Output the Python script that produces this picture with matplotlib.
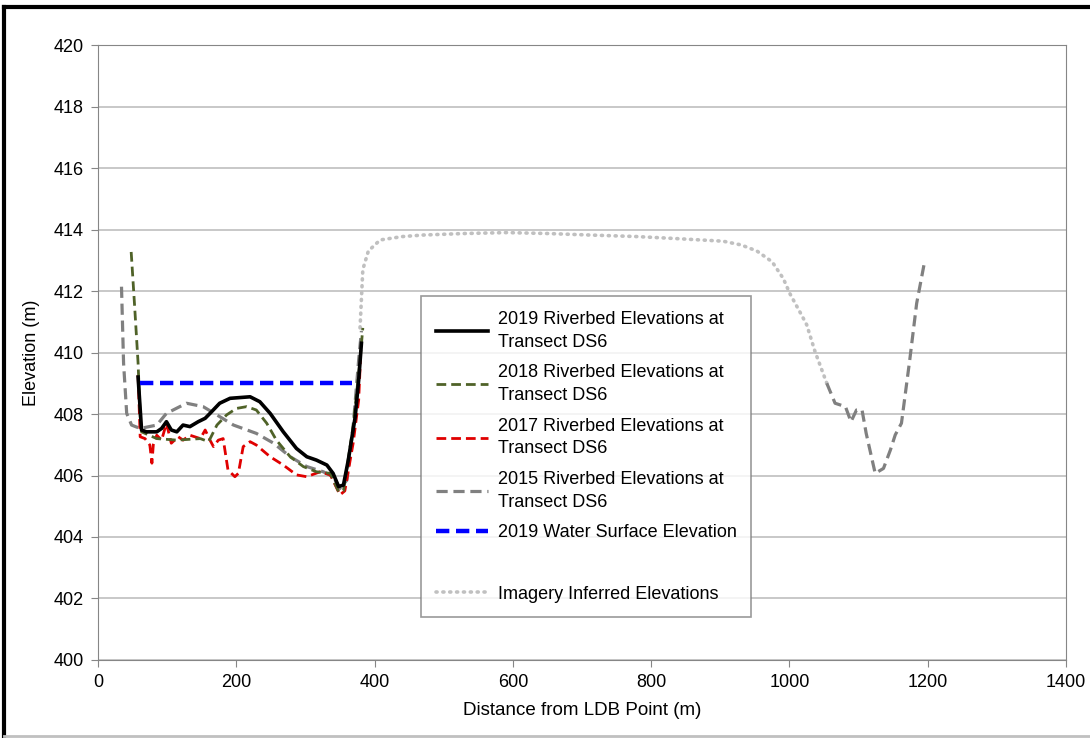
import numpy as np
import matplotlib
matplotlib.use("Agg")
import matplotlib.pyplot as plt
from matplotlib.lines import Line2D

plt.rcParams['font.family'] = ['Liberation Sans', 'DejaVu Sans']

# 2019 riverbed
x2019 = [58, 63, 70, 85, 92, 99, 106, 114, 123, 133, 145, 155, 162, 176, 191, 220, 234, 249,
         268, 287, 302, 316, 331, 340, 348, 355, 362, 372, 377, 381]
y2019 = [409.2, 407.48, 407.42, 407.42, 407.53, 407.75, 407.48, 407.42, 407.64, 407.59, 407.75,
         407.86, 408.02, 408.35, 408.51, 408.56, 408.4, 408.02, 407.42, 406.88, 406.61, 406.5,
         406.34, 406.07, 405.64, 405.69, 406.5, 407.91, 409.1, 410.3]

# 2018 riverbed
x2018 = [48, 53, 58, 61, 63, 85, 114, 148, 160, 172, 186, 200, 215, 229, 244, 258, 278, 297,
         316, 336, 348, 355, 369, 379, 383]
y2018 = [413.27, 411.5, 409.65, 407.92, 407.42, 407.2, 407.15, 407.2, 407.1, 407.64, 407.97,
         408.18, 408.24, 408.13, 407.7, 407.15, 406.61, 406.29, 406.12, 406.07, 405.47, 405.5,
         407.6, 409.76, 410.8]

# 2017 riverbed
x2017 = [58, 61, 68, 75, 78, 80, 85, 92, 99, 106, 116, 123, 133, 148, 155, 162, 167, 174, 181,
         188, 198, 203, 210, 220, 229, 249, 268, 287, 302, 321, 336, 350, 357, 369, 377, 380]
y2017 = [409.27, 407.26, 407.2, 406.99, 406.4, 407.0, 407.31, 407.15, 407.7, 407.05, 407.26,
         407.15, 407.31, 407.2, 407.48, 407.15, 406.94, 407.15, 407.2, 406.18, 405.96, 406.07,
         406.94, 407.1, 406.99, 406.61, 406.34, 406.02, 405.96, 406.12, 406.02, 405.37, 405.5,
         407.05, 408.45, 410.0]

# 2015 riverbed, left bank section and right channel section
x2015_l = [34, 37, 41.5, 48.6, 61, 85, 99, 128, 152, 172, 196, 229, 254, 278, 302, 326, 340,
           350, 360, 369, 377, 381]
y2015_l = [412.14, 409.65, 408.02, 407.64, 407.53, 407.64, 408.02, 408.35, 408.24, 407.97,
           407.64, 407.37, 407.05, 406.61, 406.29, 406.12, 405.96, 405.58, 405.85, 407.59,
           409.76, 410.7]
x2015_r = [1054, 1066, 1081, 1089, 1097, 1105, 1111, 1124, 1136, 1146, 1153, 1162, 1174, 1184, 1195]
y2015_r = [409.0, 408.35, 408.24, 407.75, 408.13, 408.13, 407.37, 406.07, 406.23, 406.83,
           407.32, 407.7, 409.76, 411.6, 412.9]

# 2019 water surface
x_ws = [61, 368]
y_ws = [409.0, 409.0]

# imagery inferred elevations
x_img = [379, 383, 391, 408, 440, 470, 530, 591, 650, 712, 780, 832, 904, 930, 953, 975, 991,
         1001, 1018, 1025, 1037, 1054]
y_img = [410.8, 412.7, 413.3, 413.66, 413.77, 413.82, 413.87, 413.9, 413.87, 413.82, 413.77,
         413.71, 413.62, 413.5, 413.3, 412.95, 412.41, 411.9, 411.2, 410.9, 410.03, 409.0]

fig = plt.figure(figsize=(10.9, 7.38), dpi=100)
ax = fig.add_axes([0.0899, 0.1057, 0.8881, 0.8333])

ax.plot(x_img, y_img, color='#c0c0c0', lw=2.6, linestyle=(0, (0.3, 1.6)),
        dash_capstyle='round', label='Imagery Inferred Elevations')
ax.plot(x2015_l, y2015_l, color='#808080', lw=2.3, dashes=(3.5, 1.8), label='2015 Riverbed Elevations at\nTransect DS6')
ax.plot(x2015_r, y2015_r, color='#808080', lw=2.3, dashes=(3.5, 1.8))
ax.plot(x2017, y2017, color='#e00000', lw=2.0, dashes=(3.5, 1.8), label='2017 Riverbed Elevations at\nTransect DS6')
ax.plot(x2018, y2018, color='#4f6228', lw=2.0, dashes=(3.5, 1.8), label='2018 Riverbed Elevations at\nTransect DS6')
ax.plot(x2019, y2019, color='black', lw=2.6, label='2019 Riverbed Elevations at\nTransect DS6')
ax.plot(x_ws, y_ws, color='#0000ff', lw=3.2, dashes=(3, 1.5), label='2019 Water Surface Elevation')

ax.set_xlim(0, 1400)
ax.set_ylim(400, 420)
ax.set_xticks(np.arange(0, 1401, 200))
ax.set_yticks(np.arange(400, 421, 2))
ax.yaxis.grid(True, color='#bfbfbf', lw=1.2)
ax.set_axisbelow(True)
for s in ax.spines.values():
    s.set_color('#868686')
ax.tick_params(direction='out', length=5, color='#868686', labelsize=13, pad=5)
ax.set_xlabel('Distance from LDB Point (m)', fontsize=13.5, labelpad=8)
ax.set_ylabel('Elevation (m)', fontsize=13, labelpad=10)

h, l = ax.get_legend_handles_labels()
order = [4, 3, 2, 1, 5]
handles = [h[i] for i in order] + [Line2D([], [], color='none'), h[0]]
labels = [l[i] for i in order] + [' ', l[0]]
leg = ax.legend(handles, labels, loc='lower left', bbox_to_anchor=(0.334, 0.07),
                fontsize=13, frameon=True, fancybox=False, edgecolor='#808080',
                handlelength=2.9, labelspacing=0.75, borderpad=0.8, handletextpad=0.55,
                borderaxespad=0)
leg.get_frame().set_linewidth(1.2)
for t in leg.get_texts():
    t.set_linespacing(1.45)

# outer chart border
fig.add_artist(Line2D([0.004, 0.004], [0.0, 0.991], color='black', lw=3, transform=fig.transFigure))
fig.add_artist(Line2D([0.004, 1.0], [0.991, 0.991], color='black', lw=3, transform=fig.transFigure))
fig.add_artist(Line2D([0.004, 1.0], [0.003, 0.003], color='#c0c0c0', lw=2, transform=fig.transFigure))

plt.savefig('out.png', dpi=100)
plt.close()
